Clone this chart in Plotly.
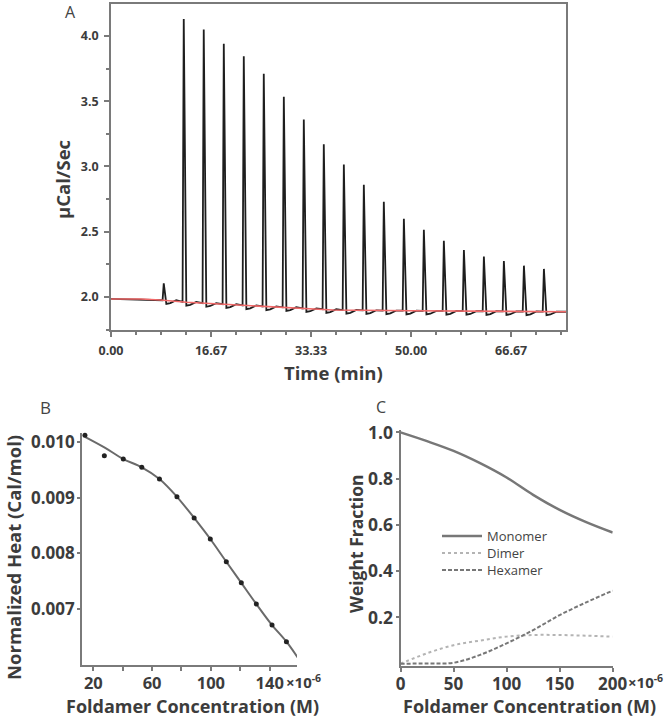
import plotly.graph_objects as go

W, H = 666, 719

# ---------------- Panel A : raw ITC thermogram ----------------
inj_time = [8.67, 12.0, 15.33, 18.67, 22.0, 25.33, 28.67, 32.0, 35.33, 38.67,
            42.0, 45.33, 48.67, 52.0, 55.33, 58.67, 62.0, 65.33, 68.67, 72.0]
inj_peak = [2.105, 4.13, 4.05, 3.94, 3.845, 3.71, 3.535, 3.36, 3.17, 3.015,
            2.86, 2.73, 2.60, 2.515, 2.43, 2.36, 2.31, 2.275, 2.24, 2.215]
inj_base = [1.975, 1.962, 1.953, 1.945, 1.935, 1.927, 1.921, 1.913, 1.906, 1.900,
            1.898, 1.896, 1.895, 1.894, 1.893, 1.892, 1.891, 1.890, 1.889, 1.888]
base_t = [0.0, 5.0, 8.2, 12.6, 20.4, 28.7, 37.0, 50.0, 62.0, 75.8]
base_v = [1.985, 1.984, 1.977, 1.960, 1.940, 1.921, 1.900, 1.895, 1.891, 1.887]
a_xticks = [0.0, 16.667, 33.333, 50.0, 66.667]
a_xlabels = ["0.00", "16.67", "33.33", "50.00", "66.67"]
a_yticks = [2.0, 2.5, 3.0, 3.5, 4.0]
a_ylabels = ["2.0", "2.5", "3.0", "3.5", "4.0"]

# ---------------- Panel B : integrated heats ----------------
conc_b = [14.3, 27.5, 40.4, 53.0, 65.0, 76.9, 88.6, 99.6, 110.5, 120.7,
          130.9, 141.6, 151.4, 159.7]
heat_b = [0.01013, 0.00976, 0.00970, 0.00955, 0.00934, 0.00902, 0.00864,
          0.00826, 0.00785, 0.00747, 0.00709, 0.00671, 0.00641, 0.00610]
fit_b = [0.01010, 0.00991, 0.00970, 0.00955, 0.00934, 0.00902, 0.00864,
         0.00826, 0.00785, 0.00747, 0.00709, 0.00671, 0.00641, 0.00610]
b_xticks = [20, 60, 100, 140]
b_xlabels = ["20", "60", "100", "140"]
b_yticks = [0.007, 0.008, 0.009, 0.010]
b_ylabels = ["0.007", "0.008", "0.009", "0.010"]

# ---------------- Panel C : species distribution ----------------
conc_c = [0, 25, 50, 75, 100, 125, 150, 175, 200]
monomer = [1.0, 0.962, 0.920, 0.867, 0.805, 0.730, 0.665, 0.612, 0.567]
dimer = [0.0, 0.045, 0.080, 0.100, 0.117, 0.124, 0.124, 0.121, 0.117]
hexamer = [0.0, 0.001, 0.004, 0.038, 0.088, 0.145, 0.210, 0.265, 0.316]
c_xticks = [0, 50, 100, 150, 200]
c_xlabels = ["0", "50", "100", "150", "200"]
c_yticks = [0.2, 0.4, 0.6, 0.8, 1.0]
c_ylabels = ["0.2", "0.4", "0.6", "0.8", "1.0"]


def px_x(p):
    return p / W


def px_y(p):
    return 1 - p / H


FONT = "Open Sans"
TXT = "#3c3c3c"
AXC = "#7a7a7a"

# thermogram trace built from the injection table (peak template)
tx, ty = [base_t[0]], [base_v[0]]
for t, p, b in zip(inj_time, inj_peak, inj_base):
    tx += [t - 0.08, t + 0.12, t + 0.55, t + 1.2, t + 2.2]
    ty += [b, p, b - 0.028, b - 0.022, b]
tx.append(base_t[-1])
ty.append(base_v[-1])

fig = go.Figure()
fig.add_trace(go.Scatter(x=tx, y=ty, mode="lines", line=dict(color="#1e1e1e", width=1.8),
                         xaxis="x", yaxis="y", showlegend=False))
fig.add_trace(go.Scatter(x=base_t, y=base_v, mode="lines", line=dict(color="#f26a6a", width=1.6),
                         xaxis="x", yaxis="y", showlegend=False))
fig.add_trace(go.Scatter(x=conc_b, y=fit_b, mode="lines", line=dict(color="#6a6a6a", width=2, shape="spline"),
                         xaxis="x2", yaxis="y2", showlegend=False))
fig.add_trace(go.Scatter(x=conc_b, y=heat_b, mode="markers", marker=dict(color="#222", size=5),
                         xaxis="x2", yaxis="y2", showlegend=False, cliponaxis=False))
fig.add_trace(go.Scatter(x=conc_c, y=monomer, mode="lines", name="Monomer", legend="legend",
                         line=dict(color="#777", width=2.5, shape="spline"),
                         xaxis="x3", yaxis="y3", cliponaxis=False))
fig.add_trace(go.Scatter(x=conc_c, y=dimer, mode="lines", name="Dimer", legend="legend2",
                         line=dict(color="#b4b4b4", width=2, dash="dot", shape="spline"),
                         xaxis="x3", yaxis="y3", cliponaxis=False))
fig.add_trace(go.Scatter(x=conc_c, y=hexamer, mode="lines", name="Hexamer", legend="legend3",
                         line=dict(color="#777", width=2, dash="4px,2px", shape="spline"),
                         xaxis="x3", yaxis="y3", cliponaxis=False))

common = dict(showline=True, linecolor=AXC, linewidth=1.8, ticks="outside", tickcolor=AXC,
              tickwidth=1.5, showgrid=False, zeroline=False, automargin=False)


def tf(size):
    return dict(family=FONT, size=size, color=TXT, weight="bold")


def leg(ypix):
    return dict(x=px_x(437), y=px_y(ypix), xanchor="left", yanchor="middle",
                bgcolor="rgba(0,0,0,0)", font=dict(family=FONT, size=13, color="#444"),
                itemwidth=40, borderwidth=0)


fig.update_layout(
    width=W, height=H, margin=dict(l=0, r=0, t=0, b=0, pad=0, autoexpand=False),
    paper_bgcolor="white", plot_bgcolor="white",
    xaxis=dict(domain=[px_x(111), px_x(566)], anchor="y", range=[0, 75.8],
               tickvals=a_xticks, ticktext=a_xlabels, ticklen=5, mirror=True,
               minor=dict(ticks="outside", dtick=4.16667, tick0=0, ticklen=3, tickcolor=AXC),
               tickfont=tf(12.5), ticklabelstandoff=3, **common),
    yaxis=dict(domain=[px_y(330), px_y(4)], anchor="x", range=[1.747, 4.245],
               tickvals=a_yticks, ticktext=a_ylabels, ticklen=5, mirror=True,
               minor=dict(ticks="outside", dtick=0.25, tick0=0, ticklen=3, tickcolor=AXC),
               tickfont=tf(12.5), ticklabelstandoff=3, **common),
    xaxis2=dict(domain=[px_x(82), px_x(297)], anchor="y2", range=[12.3, 158.6],
                tickvals=b_xticks, ticktext=b_xlabels, ticklen=4, ticklabelstandoff=-2,
                minor=dict(ticks="outside", dtick=20, tick0=0, ticklen=4, tickcolor=AXC),
                tickfont=tf(16.5), **common),
    yaxis2=dict(domain=[px_y(665), px_y(433)], anchor="x2", range=[0.005991, 0.010169],
                tickvals=b_yticks, ticktext=b_ylabels, ticklen=3, ticklabelstandoff=-1,
                tickfont=tf(17), **common),
    xaxis3=dict(domain=[px_x(400.5), px_x(612.7)], anchor="y3", range=[0, 200],
                tickvals=c_xticks, ticktext=c_xlabels, ticklen=4, ticklabelstandoff=-2,
                tickfont=tf(17), **common),
    yaxis3=dict(domain=[px_y(665.7), px_y(430)], anchor="x3", range=[-0.0087, 1.0104],
                tickvals=c_yticks, ticktext=c_ylabels, ticklen=3, ticklabelstandoff=-1,
                tickfont=tf(17.5), **common),
    legend=leg(536), legend2=leg(553), legend3=leg(570),
)

ann = []


def add_text(text, x, y, size, angle=0, bold=True, xanchor="center", color=TXT):
    ann.append(dict(text=text, x=px_x(x), y=px_y(y), xref="paper", yref="paper",
                    showarrow=False, textangle=angle, xanchor=xanchor, yanchor="middle",
                    font=dict(family=FONT, size=size, color=color,
                              weight="bold" if bold else "normal")))


add_text("A", 70, 12, 16, bold=False, color="#444")
add_text("B", 45, 407, 17, bold=False, color="#444")
add_text("C", 381, 407, 16, bold=False, color="#444")
add_text("µCal/Sec", 63, 180, 18.5, angle=-90)
add_text("Time (min)", 333, 372, 18.5)
add_text("Normalized Heat (Cal/mol)", 13, 558, 18.5, angle=-90)
add_text("Foldamer Concentration (M)", 192, 706, 18)
add_text("×10<sup>-6</sup>", 284, 681, 15, xanchor="left")
add_text("Weight Fraction", 356, 544, 17.5, angle=-90)
add_text("Foldamer Concentration (M)", 529, 706, 18)
add_text("×10<sup>-6</sup>", 626, 681, 15, xanchor="left")
fig.update_layout(annotations=ann)

fig.write_html("out.html", config={"displayModeBar": False},
               post_script="document.body.style.margin='0px';document.body.style.overflow='hidden';")
